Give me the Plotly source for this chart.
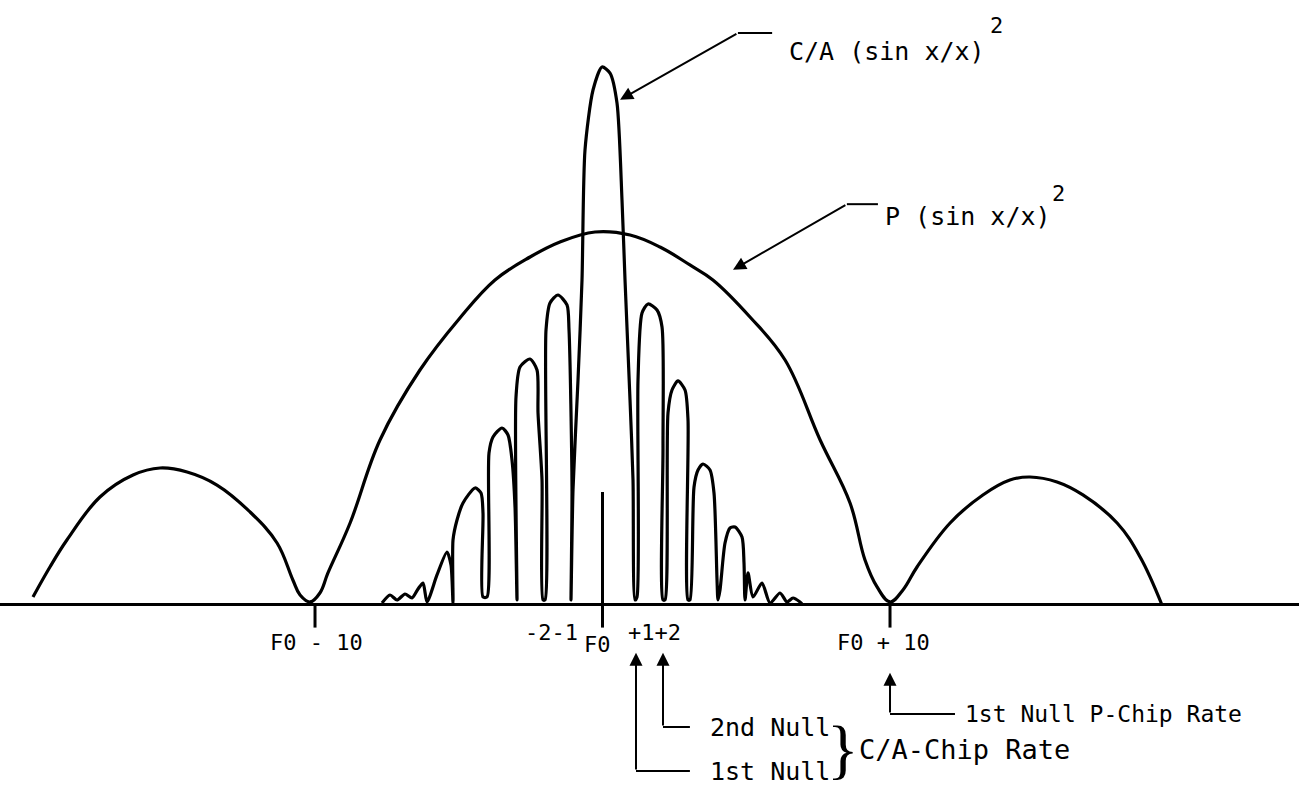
import plotly.graph_objects as go

# ---------------- data (x: frequency offset from F0 in P-chip units, y: relative power, C/A peak = 100)
P_X = [-19.81, -19.22, -18.63, -17.48, -16.33, -15.39, -14.45, -13.41, -12.26, -11.32, -10.77, -10.52, -10.17,
       -9.83, -9.55, -8.78, -7.74, -6.35, -4.96, -3.74, -2.52, -1.48, -0.26, 0.96, 2.00, 3.04, 3.84, 5.13, 6.35,
       7.57, 8.61, 9.13, 9.55, 10.00,
       10.45, 10.94, 12.09, 13.23, 14.17, 14.87, 15.81, 16.71, 17.90, 18.70, 19.46]
P_Y = [1.49, 7.06, 12.08, 20.07, 24.16, 25.46, 24.72, 22.30, 17.29, 11.52, 4.65, 1.86, 0.56,
       2.23, 5.95, 15.24, 30.67, 43.68, 53.35, 60.41, 64.68, 67.47, 69.33, 68.77, 66.54, 63.20, 60.41, 53.53, 45.54,
       30.67, 18.96, 8.36, 3.35, 0.56,
       2.79, 7.06, 15.24, 20.45, 23.23, 23.79, 22.86, 20.45, 15.24, 8.92, 0.0]

CA_X = [-7.670, -7.391, -7.148, -6.870, -6.626, -6.417, -6.243, -6.104,
        -5.757, -5.409, -5.270, -5.200,
        -5.200, -5.061, -4.852, -4.435, -4.226, -4.157, -4.157,
        -4.017, -3.948, -3.809, -3.496, -3.287, -3.148, -3.043, -2.974,
        -3.009, -2.870, -2.522, -2.278, -2.243, -2.104, -2.070,
        -2.000, -1.965, -1.826, -1.548, -1.235, -1.165, -1.061, -1.096,
        -1.026, -0.852, -0.713, -0.609, -0.330, -0.017, 0.261, 0.504, 0.678, 0.783, 0.957, 1.061, 1.130,
        1.200, 1.235, 1.374, 1.583, 1.896, 2.070, 2.104, 2.104,
        2.174, 2.278, 2.417, 2.626, 2.870, 2.974, 2.974,
        3.043, 3.183, 3.322, 3.496, 3.739, 3.878, 3.983, 4.017,
        4.087, 4.261, 4.435, 4.609, 4.852, 4.922, 4.957,
        5.061, 5.235, 5.548, 5.826, 6.174, 6.417, 6.626, 6.870, 6.974]
CA_Y = [0.37, 1.86, 0.93, 2.04, 1.30, 2.97, 4.09, 0.56,
        5.58, 9.85, 7.43, 0.37,
        12.08, 15.80, 18.96, 21.75, 20.82, 17.10, 1.49,
        1.49, 28.25, 31.23, 32.90, 31.60, 26.95, 18.22, 0.93,
        38.66, 44.24, 45.72, 43.68, 35.69, 23.23, 0.93,
        0.93, 51.12, 56.13, 57.62, 55.76, 51.12, 21.93, 0.93,
        21.38, 41.82, 60.41, 84.57, 95.72, 100.0, 98.88, 93.31, 75.28, 60.41, 38.10, 23.23, 0.93,
        1.49, 41.82, 54.27, 55.95, 54.83, 51.67, 29.37, 0.93,
        0.93, 35.69, 39.96, 41.64, 39.96, 34.39, 0.93,
        0.93, 21.93, 25.09, 26.21, 25.09, 20.82, 4.65, 0.93,
        2.79, 11.52, 14.31, 14.50, 12.64, 7.81, 0.93,
        5.95, 1.49, 4.09, 0.37, 2.23, 0.56, 1.30, 0.56, 0.0]

CARRIER_X = 0.0
CARRIER_TOP = 21.0

TICK_POS = [-10, 0, 10]
TICK_BOTTOM = -4.2

TICK_LABELS = ["F0 - 10", "-2-1", "F0", "+1+2", "F0 + 10"]
TICK_LABEL_X = [-9.95, -1.76, -0.16, 1.80, 9.76]
TICK_LABEL_Y = [-7.06, -5.20, -7.43, -5.20, -7.06]

# callouts
CALLOUT_TEXT = ["C/A (sin x/x)", "P (sin x/x)", "2nd Null", "1st Null", "1st Null P-Chip Rate"]
CALLOUT_TX = [6.42, 9.76, 3.67, 3.67, 12.54]
CALLOUT_TY = [102.8, 72.2, -22.68, -30.86, -20.26]
CALLOUT_SIZE = [25, 25, 25, 25, 23]
LEADER_CORNER_X = [4.71, 8.50, 2.104, 1.165, 10.0]
LEADER_END_X = [5.90, 9.58, 3.04, 3.04, 12.26]
LEADER_Y = [106.3, 74.5, -22.68, -30.86, -20.26]
TIP_X = [0.61, 4.54, 2.104, 1.165, 10.0]
TIP_Y = [93.9, 62.3, -8.9, -8.9, -12.6]

SUP_TEXT = ["2", "2"]
SUP_X = [13.70, 15.85]
SUP_Y = [107.8, 76.4]

BRACE_X = 8.38
BRACE_Y = -26.6
GROUP_TEXT = "C/A-Chip Rate"
GROUP_X = 8.85
GROUP_Y = -26.95

X_RANGE = [-20.957, 24.226]
Y_RANGE = [-35.69, 112.45]

FONT = "DejaVu Sans Mono"

fig = go.Figure()

fig.add_trace(go.Scatter(x=P_X, y=P_Y, mode="lines",
                         line=dict(color="black", width=3.2, shape="spline", smoothing=1.1),
                         hoverinfo="skip", showlegend=False))
fig.add_trace(go.Scatter(x=CA_X, y=CA_Y, mode="lines",
                         line=dict(color="black", width=3.2, shape="spline", smoothing=0.7),
                         hoverinfo="skip", showlegend=False))

# carrier spike + tick marks
tx, ty = [], []
for t in TICK_POS:
    tx += [t, t, None]
    ty += [CARRIER_TOP if t == CARRIER_X else 0, TICK_BOTTOM, None]
fig.add_trace(go.Scatter(x=tx, y=ty, mode="lines", line=dict(color="black", width=3),
                         hoverinfo="skip", showlegend=False))

# leader lines (horizontal part); the slanted / vertical part is drawn by the arrow annotations
lx, ly = [], []
for cx, ex, yy in zip(LEADER_CORNER_X, LEADER_END_X, LEADER_Y):
    lx += [cx, ex, None]
    ly += [yy, yy, None]
fig.add_trace(go.Scatter(x=lx, y=ly, mode="lines", line=dict(color="black", width=2),
                         hoverinfo="skip", showlegend=False))

annotations = []
for tip_x, tip_y, cx, cy in zip(TIP_X, TIP_Y, LEADER_CORNER_X, LEADER_Y):
    annotations.append(dict(x=tip_x, y=tip_y, xref="x", yref="y", ax=cx, ay=cy, axref="x", ayref="y",
                            text="", showarrow=True, arrowhead=2, arrowsize=1.3, arrowwidth=2,
                            arrowcolor="black"))

for txt, x, y in zip(TICK_LABELS, TICK_LABEL_X, TICK_LABEL_Y):
    annotations.append(dict(x=x, y=y, xref="x", yref="y", text=txt, showarrow=False,
                            xanchor="center", yanchor="middle",
                            font=dict(family=FONT, size=22, color="black")))

for txt, x, y, s in zip(CALLOUT_TEXT, CALLOUT_TX, CALLOUT_TY, CALLOUT_SIZE):
    annotations.append(dict(x=x, y=y, xref="x", yref="y", text=txt, showarrow=False,
                            xanchor="left", yanchor="middle",
                            font=dict(family=FONT, size=s, color="black")))

for txt, x, y in zip(SUP_TEXT, SUP_X, SUP_Y):
    annotations.append(dict(x=x, y=y, xref="x", yref="y", text=txt, showarrow=False,
                            xanchor="center", yanchor="middle",
                            font=dict(family=FONT, size=22, color="black")))

annotations.append(dict(x=BRACE_X, y=BRACE_Y, xref="x", yref="y", text="}", showarrow=False,
                        xanchor="center", yanchor="middle",
                        font=dict(family="Liberation Serif", size=66, color="black")))
annotations.append(dict(x=GROUP_X, y=GROUP_Y, xref="x", yref="y", text=GROUP_TEXT, showarrow=False,
                        xanchor="left", yanchor="middle",
                        font=dict(family=FONT, size=27, color="black")))

fig.update_layout(
    width=1299, height=797,
    margin=dict(l=0, r=0, t=0, b=0),
    paper_bgcolor="white", plot_bgcolor="white",
    annotations=annotations,
    showlegend=False,
)
fig.update_xaxes(range=X_RANGE, visible=False, showgrid=False, zeroline=False)
fig.update_yaxes(range=Y_RANGE, showgrid=False, showticklabels=False, ticks="",
                 zeroline=True, zerolinecolor="black", zerolinewidth=3, showline=False)

fig.write_html("out.html", config={"displayModeBar": False},
               post_script="document.body.style.margin='0';document.body.style.overflow='hidden';")
